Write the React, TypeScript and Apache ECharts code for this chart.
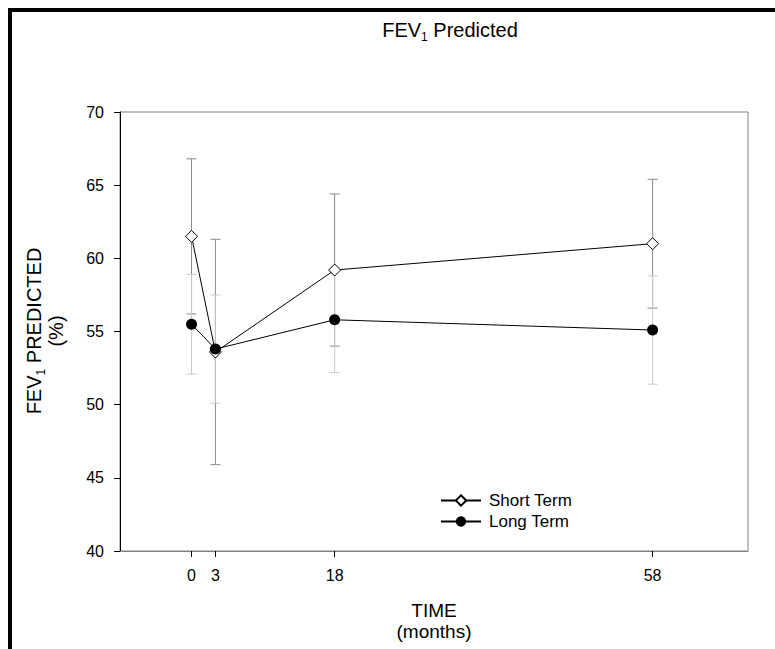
import React, { useEffect, useRef } from "react";
import * as echarts from "echarts";

const FONT = "'Liberation Sans', Arial, Helvetica, sans-serif";

const months = [0, 3, 18, 58];
const xTickLabels = [0, 3, 18, 58];
const shortTerm = [61.5, 53.6, 59.2, 61.0];
const shortErr = [5.3, 7.7, 5.2, 4.4];
const longTerm = [55.5, 53.8, 55.8, 55.1];
const longErr = [3.4, 3.7, 3.6, 3.7];
const seriesNames = ["Short Term", "Long Term"];

function errorSeries(values: number[], errs: number[], color: string, z: number) {
  return {
    type: "custom",
    silent: true,
    clip: false,
    z,
    data: months.map((m, i) => [m, values[i] - errs[i], values[i] + errs[i]]),
    renderItem: (_params: any, api: any) => {
      const x = api.value(0);
      const lo = api.value(1);
      const hi = api.value(2);
      const pHi = api.coord([x, hi]);
      const pLo = api.coord([x, lo]);
      const w = 5;
      const st = { stroke: color, lineWidth: 1 };
      return {
        type: "group",
        children: [
          { type: "line", shape: { x1: pHi[0], y1: pHi[1], x2: pLo[0], y2: pLo[1] }, style: st },
          { type: "line", shape: { x1: pHi[0] - w, y1: pHi[1], x2: pHi[0] + w, y2: pHi[1] }, style: st },
          { type: "line", shape: { x1: pLo[0] - w, y1: pLo[1], x2: pLo[0] + w, y2: pLo[1] }, style: st },
        ],
      };
    },
  };
}

export default function App() {
  const ref = useRef<HTMLDivElement>(null);
  useEffect(() => {
    if (!ref.current) return;
    const chart = echarts.init(ref.current, undefined, { renderer: "svg" });
    chart.setOption({
      animation: false,
      backgroundColor: "#fff",
      grid: {
        left: 120,
        top: 112,
        right: 27,
        bottom: 98,
        show: true,
        borderColor: "#808080",
        borderWidth: 1,
        containLabel: false,
      },
      xAxis: {
        type: "value",
        min: -9,
        max: 70,
        axisLine: { show: true, onZero: false, lineStyle: { color: "#808080", width: 1 } },
        axisTick: { show: true, customValues: xTickLabels, length: 6, inside: false, lineStyle: { color: "#000" } },
        axisLabel: { customValues: xTickLabels, margin: 16, fontSize: 16, color: "#000", fontFamily: FONT },
        splitLine: { show: false },
      },
      yAxis: {
        type: "value",
        min: 40,
        max: 70,
        interval: 5,
        axisLine: { show: true, onZero: false, lineStyle: { color: "#000", width: 1 } },
        axisTick: { show: true, length: 6, inside: false, lineStyle: { color: "#000" } },
        axisLabel: { margin: 16, fontSize: 16, color: "#000", fontFamily: FONT },
        splitLine: { show: false },
      },
      legend: {
        data: seriesNames,
        orient: "vertical",
        left: 440,
        top: 492,
        padding: 0,
        itemWidth: 40,
        itemHeight: 13,
        itemGap: 4,
        textStyle: { fontSize: 17, color: "#000", fontFamily: FONT, padding: [0, 0, 0, 3] },
      },
      series: [
        errorSeries(shortTerm, shortErr, "#8a8a8a", 1),
        errorSeries(longTerm, longErr, "#c8c8c8", 2),
        {
          name: seriesNames[0],
          type: "line",
          z: 4,
          data: months.map((m, i) => [m, shortTerm[i]]),
          symbol: "diamond",
          symbolSize: 12,
          lineStyle: { color: "#000", width: 1 },
          itemStyle: { color: "#fff", borderColor: "#000", borderWidth: 1 },
        },
        {
          name: seriesNames[1],
          type: "line",
          z: 5,
          data: months.map((m, i) => [m, longTerm[i]]),
          symbol: "circle",
          symbolSize: 11,
          lineStyle: { color: "#000", width: 1 },
          itemStyle: { color: "#000", borderColor: "#000", borderWidth: 0 },
        },
      ],
      graphic: [
        { type: "rect", shape: { x: 8, y: 8, width: 4, height: 641 }, style: { fill: "#000" } },
        { type: "rect", shape: { x: 8, y: 8, width: 767, height: 4 }, style: { fill: "#000" } },
        {
          type: "text",
          x: 450,
          y: 30,
          style: {
            text: "FEV{s|1} Predicted",
            align: "center",
            verticalAlign: "middle",
            fontSize: 20,
            fontFamily: FONT,
            fill: "#000",
            rich: { s: { fontSize: 12, fontFamily: FONT, padding: [13, 0, 0, 0], fill: "#000" } },
          },
        },
        {
          type: "text",
          x: 45,
          y: 331,
          rotation: Math.PI / 2,
          style: {
            text: "FEV{s|1} PREDICTED\n(%)",
            align: "center",
            verticalAlign: "middle",
            fontSize: 20,
            lineHeight: 22,
            fontFamily: FONT,
            fill: "#000",
            rich: { s: { fontSize: 12, fontFamily: FONT, padding: [13, 0, 0, 0], fill: "#000" } },
          },
        },
        {
          type: "text",
          x: 434,
          y: 621,
          style: {
            text: "TIME\n(months)",
            align: "center",
            verticalAlign: "middle",
            fontSize: 19,
            lineHeight: 21,
            fontFamily: FONT,
            fill: "#000",
          },
        },
      ],
    });
    return () => chart.dispose();
  }, []);
  return <div ref={ref} style={{ position: "absolute", left: 0, top: 0, width: 775, height: 649 }} />;
}
